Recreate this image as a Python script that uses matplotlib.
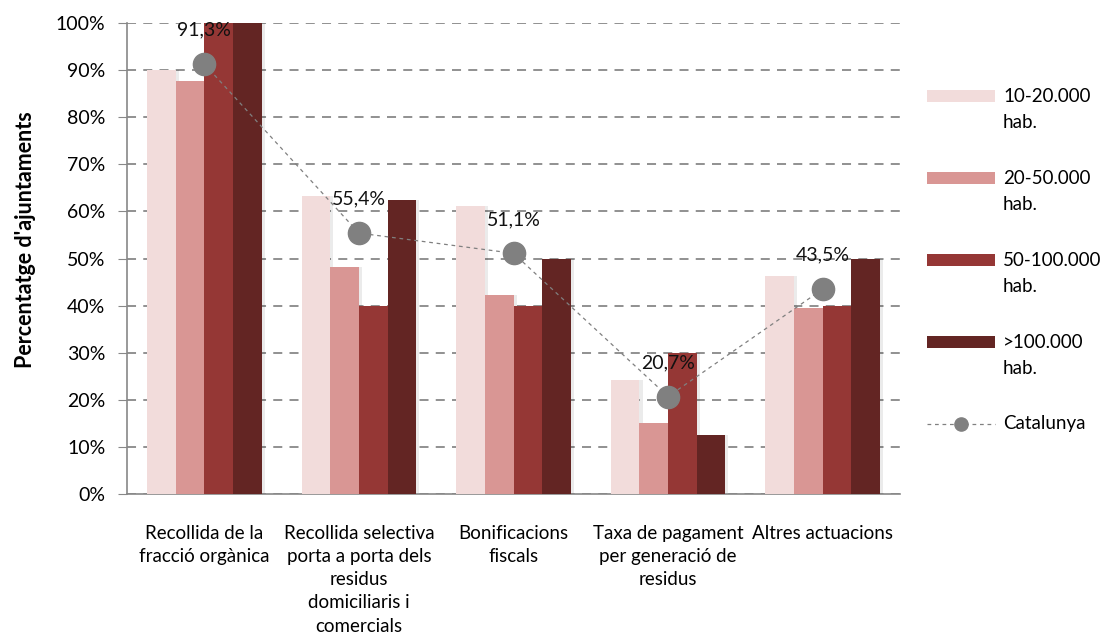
import matplotlib.pyplot as plt
import numpy as np
from matplotlib.lines import Line2D
from matplotlib.patches import Rectangle

categories = [
    "Recollida de la\nfracció orgànica",
    "Recollida selectiva\nporta a porta dels\nresidus\ndomiciliaris i\ncomercials",
    "Bonificacions\nfiscals",
    "Taxa de pagament\nper generació de\nresidus",
    "Altres actuacions",
]
series_names = ["10-20.000\nhab.", "20-50.000\nhab.", "50-100.000\nhab.", ">100.000\nhab."]
series_values = [
    [90.0, 63.2, 61.1, 24.2, 46.2],
    [87.7, 48.1, 42.3, 15.1, 39.4],
    [100.0, 40.0, 40.0, 30.0, 40.0],
    [100.0, 62.5, 50.0, 12.5, 50.0],
]
catalunya = [91.3, 55.4, 51.1, 20.7, 43.5]
catalunya_labels = ["91,3%", "55,4%", "51,1%", "20,7%", "43,5%"]
colors = ["#F2DCDB", "#D99694", "#953735", "#632523"]

W, H = 1106, 637


def fx(px):
    return px / W


def fy(py):
    return 1 - py / H


def main():
    plt.rcParams['font.family'] = ['Lato', 'DejaVu Sans']
    fig = plt.figure(figsize=(W / 100, H / 100), dpi=100)
    ax = fig.add_axes([fx(127), fy(494), (900 - 127) / W, (494 - 23) / H])

    x = np.arange(len(categories))
    width = 0.185
    for i, (vals, col) in enumerate(zip(series_values, colors)):
        offset = (i - 1.5) * width
        # soft shadow
        ax.bar(x + offset + 0.02, vals, width, color="#000000", alpha=0.08, zorder=2)
        ax.bar(x + offset, vals, width, color=col, zorder=3)

    ax.plot(x, catalunya, color="#808080", linestyle=(0, (3, 3)), linewidth=0.9,
            marker="o", markersize=16, markerfacecolor="#808080",
            markeredgecolor="#808080", zorder=5)
    for xi, yi, lab in zip(x, catalunya, catalunya_labels):
        ax.text(xi, yi + 7.2, lab, ha="center", va="center", fontsize=14,
                color="#111111", zorder=6)

    ax.set_xlim(-0.5, len(categories) - 0.5)
    ax.set_ylim(0, 100)
    ax.set_yticks(range(0, 101, 10))
    ax.set_yticklabels([f"{v}%" for v in range(0, 101, 10)], fontsize=14)
    ax.set_xticks(x)
    ax.set_xticklabels(categories, fontsize=13.5, linespacing=1.45, va="top")
    ax.tick_params(axis="x", length=0, pad=22)
    ax.tick_params(axis="y", length=6.5, color="#888888", direction="out", pad=9)
    ax.yaxis.grid(True, linestyle=(0, (5, 4)), color="#888888", linewidth=1.3, zorder=0)
    ax.set_axisbelow(True)
    for s in ["top", "right"]:
        ax.spines[s].set_visible(False)
    for s in ["left", "bottom"]:
        ax.spines[s].set_color("#888888")
        ax.spines[s].set_linewidth(1.2)
    fig.text(fx(26), fy(240), "Percentatge d'ajuntaments", rotation=90,
             ha="center", va="center", fontsize=15.5, fontweight="bold")

    # legend, one entry per series; handle lines up with the first text line
    pitch = 82
    for i, (name, col) in enumerate(zip(series_names, colors)):
        y0 = 96 + pitch * i
        fig.patches.append(Rectangle((fx(927), fy(y0 + 6)), fx(995) - fx(927),
                                     fy(y0 - 6) - fy(y0 + 6), facecolor=col,
                                     edgecolor="none", transform=fig.transFigure))
        for j, line in enumerate(name.split("\n")):
            fig.text(fx(1003), fy(y0 + 26 * j), line, ha="left", va="center",
                     fontsize=13.5)
    y0 = 96 + pitch * 4
    fig.add_artist(Line2D([fx(927), fx(995)], [fy(y0), fy(y0)], color="#808080",
                          linestyle=(0, (3, 3)), linewidth=0.9,
                          transform=fig.transFigure))
    fig.add_artist(Line2D([fx(961)], [fy(y0)], color="#808080", marker="o",
                          markersize=9.5, transform=fig.transFigure))
    fig.text(fx(1003), fy(y0), "Catalunya", ha="left", va="center", fontsize=13.5)

    fig.savefig("out.png", dpi=100)


if __name__ == "__main__":
    main()
